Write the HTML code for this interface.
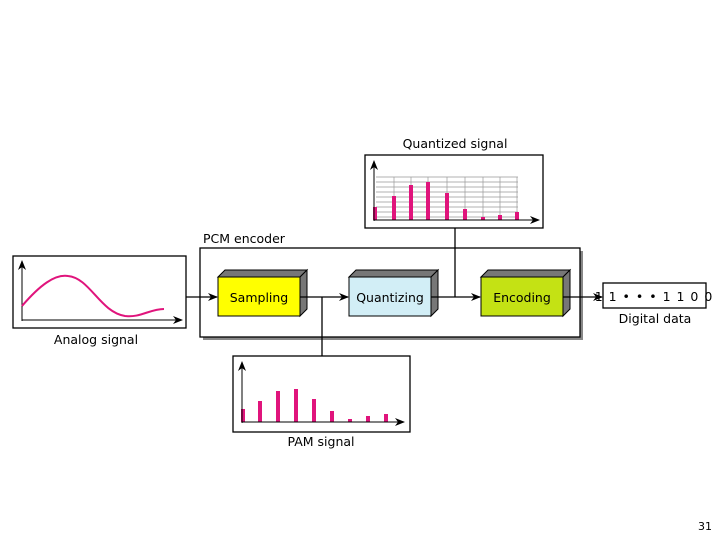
<!DOCTYPE html>
<html><head><meta charset="utf-8"><style>body{margin:0;background:#fff}svg{display:block}text{font-family:"DejaVu Sans","Liberation Sans",sans-serif}</style></head><body>
<svg width="720" height="540" viewBox="0 0 720 540" xmlns="http://www.w3.org/2000/svg">
<defs><marker id="a" markerWidth="10" markerHeight="8" refX="9" refY="4" orient="auto" markerUnits="userSpaceOnUse"><path d="M0,0 L10,4 L0,8 L3,4z" fill="#000"/></marker></defs>
<!-- Quantized -->
<text x="455" y="148" font-size="12.5" text-anchor="middle">Quantized signal</text>
<rect x="365" y="155" width="178" height="73" fill="#fff" stroke="#000" stroke-width="1.3"/>
<g stroke="#999" stroke-width="0.7">
<line x1="376" y1="177" x2="518" y2="177"/><line x1="376" y1="182" x2="518" y2="182"/><line x1="376" y1="187" x2="518" y2="187"/><line x1="376" y1="192" x2="518" y2="192"/><line x1="376" y1="197" x2="518" y2="197"/><line x1="376" y1="202" x2="518" y2="202"/><line x1="376" y1="207" x2="518" y2="207"/><line x1="376" y1="212" x2="518" y2="212"/><line x1="376" y1="217" x2="518" y2="217"/>
<line x1="394" y1="177" x2="394" y2="220"/><line x1="411" y1="177" x2="411" y2="220"/><line x1="428" y1="177" x2="428" y2="220"/><line x1="447" y1="177" x2="447" y2="220"/><line x1="465" y1="177" x2="465" y2="220"/><line x1="483" y1="177" x2="483" y2="220"/><line x1="500" y1="177" x2="500" y2="220"/><line x1="517" y1="177" x2="517" y2="220"/>
</g>
<g stroke="#e0147c" stroke-width="4">
<line x1="375" y1="207" x2="375" y2="220"/><line x1="394" y1="196" x2="394" y2="220"/><line x1="411" y1="185" x2="411" y2="220"/><line x1="428" y1="182" x2="428" y2="220"/><line x1="447" y1="193" x2="447" y2="220"/><line x1="465" y1="209" x2="465" y2="220"/><line x1="483" y1="217" x2="483" y2="220"/><line x1="500" y1="215" x2="500" y2="220"/><line x1="517" y1="212" x2="517" y2="220"/>
</g>
<line x1="374" y1="221" x2="374" y2="161" stroke="#000" marker-end="url(#a)"/>
<line x1="374" y1="220" x2="539" y2="220" stroke="#000" marker-end="url(#a)"/>
<!-- PCM encoder -->
<text x="203" y="243" font-size="12.5">PCM encoder</text>
<rect x="203" y="251" width="380" height="89" fill="#888"/>
<rect x="200" y="248" width="380" height="89" fill="#fff" stroke="#000" stroke-width="1.3"/>
<!-- boxes -->
<g stroke="#000" stroke-width="1">
<polygon points="218,277 225,270 307,270 300,277" fill="#777"/><polygon points="300,277 307,270 307,309 300,316" fill="#777"/><rect x="218" y="277" width="82" height="39" fill="#ffff00"/>
<polygon points="349,277 356,270 438,270 431,277" fill="#777"/><polygon points="431,277 438,270 438,309 431,316" fill="#777"/><rect x="349" y="277" width="82" height="39" fill="#d2eef6"/>
<polygon points="481,277 488,270 570,270 563,277" fill="#777"/><polygon points="563,277 570,270 570,309 563,316" fill="#777"/><rect x="481" y="277" width="82" height="39" fill="#c4e214"/>
</g>
<text x="259" y="302" font-size="12.5" text-anchor="middle">Sampling</text>
<text x="390" y="302" font-size="12.5" text-anchor="middle">Quantizing</text>
<text x="522" y="302" font-size="12.5" text-anchor="middle">Encoding</text>
<!-- connectors -->
<g stroke="#000" stroke-width="1.3" fill="none">
<line x1="186" y1="297" x2="217" y2="297" marker-end="url(#a)"/>
<line x1="300" y1="297" x2="348" y2="297" marker-end="url(#a)"/>
<line x1="322" y1="297" x2="322" y2="356"/>
<line x1="431" y1="297" x2="480" y2="297" marker-end="url(#a)"/>
<line x1="455" y1="297" x2="455" y2="228"/>
<line x1="563" y1="297" x2="602" y2="297" marker-end="url(#a)"/>
</g>
<!-- Digital -->
<rect x="603" y="283" width="103" height="25" fill="#fff" stroke="#000" stroke-width="1.3"/>
<text x="654" y="301" font-size="12.5" text-anchor="middle" letter-spacing="1">1 1 • • • 1 1 0 0</text>
<text x="655" y="323" font-size="12.5" text-anchor="middle">Digital data</text>
<!-- Analog -->
<rect x="13" y="256" width="173" height="72" fill="#fff" stroke="#000" stroke-width="1.3"/>
<line x1="22" y1="321" x2="22" y2="261" stroke="#000" marker-end="url(#a)"/>
<line x1="22" y1="320" x2="182" y2="320" stroke="#000" marker-end="url(#a)"/>
<path d="M22,306 C40,285 55,274 68,276 C90,278 100,312 125,316 C140,318 150,309 164,309" stroke="#e0147c" stroke-width="2" fill="none"/>
<text x="96" y="344" font-size="12.5" text-anchor="middle">Analog signal</text>
<!-- PAM -->
<rect x="233" y="356" width="177" height="76" fill="#fff" stroke="#000" stroke-width="1.3"/>
<g stroke="#e0147c" stroke-width="4">
<line x1="243" y1="409" x2="243" y2="422"/><line x1="260" y1="401" x2="260" y2="422"/><line x1="278" y1="391" x2="278" y2="422"/><line x1="296" y1="389" x2="296" y2="422"/><line x1="314" y1="399" x2="314" y2="422"/><line x1="332" y1="411" x2="332" y2="422"/><line x1="350" y1="419" x2="350" y2="422"/><line x1="368" y1="416" x2="368" y2="422"/><line x1="386" y1="414" x2="386" y2="422"/>
</g>
<line x1="242" y1="423" x2="242" y2="362" stroke="#000" marker-end="url(#a)"/>
<line x1="242" y1="422" x2="404" y2="422" stroke="#000" marker-end="url(#a)"/>
<text x="321" y="446" font-size="12.5" text-anchor="middle">PAM signal</text>
<text x="712" y="530" font-size="11" text-anchor="end" font-family="Liberation Serif,serif">31</text>
</svg>
</body></html>
